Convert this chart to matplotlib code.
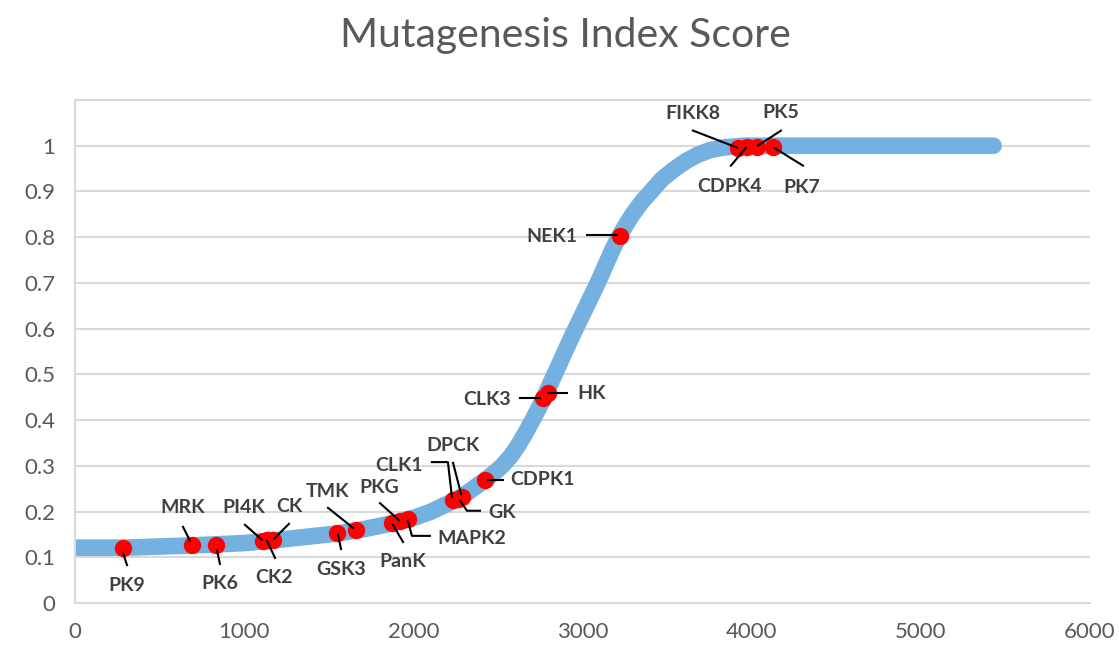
import matplotlib
matplotlib.use('Agg')
import matplotlib.pyplot as plt
import matplotlib.transforms as mtransforms

plt.rcParams['font.family'] = ['Lato', 'DejaVu Sans']

# ranked mutagenesis index score curve (rank, score)
curve_rank = [0, 300, 700, 1000, 1150, 1300, 1550, 1700, 1900, 2000, 2100, 2230,
              2300, 2420, 2480, 2530, 2580, 2620, 2660, 2700, 2740, 2780, 2820,
              2860, 2900, 2940, 2970, 3000, 3030, 3060, 3090, 3120, 3150, 3180,
              3215, 3255, 3300, 3350, 3410, 3470, 3540, 3610, 3680, 3750, 3830,
              3950, 5430]
curve_score = [0.121, 0.121, 0.126, 0.131, 0.136, 0.142, 0.152, 0.161, 0.176, 0.186,
               0.199, 0.222, 0.236, 0.268, 0.285, 0.302, 0.323, 0.345, 0.370, 0.397,
               0.425, 0.455, 0.488, 0.520, 0.553, 0.585, 0.608, 0.631, 0.654, 0.677,
               0.700, 0.725, 0.750, 0.775, 0.800, 0.826, 0.852, 0.877, 0.902, 0.927,
               0.948, 0.966, 0.980, 0.990, 0.996, 1.000, 1.000]

# highlighted kinases
kinases = ['PK9', 'MRK', 'PK6', 'PI4K', 'CK2', 'CK', 'GSK3', 'TMK', 'PanK', 'PKG',
           'MAPK2', 'CLK1', 'GK', 'DPCK', 'CDPK1', 'CLK3', 'HK', 'NEK1', 'FIKK8',
           'CDPK4', 'PK5', 'PK7']
kinase_rank = [284, 692, 833, 1111, 1135, 1170, 1549, 1661, 1874, 1921, 1968, 2234,
               2264, 2288, 2423, 2766, 2796, 3222, 3919, 3972, 4031, 4126]
kinase_score = [0.120, 0.127, 0.127, 0.136, 0.138, 0.138, 0.153, 0.160, 0.175, 0.179,
                0.184, 0.225, 0.228, 0.232, 0.269, 0.449, 0.460, 0.803, 0.996, 0.998,
                0.998, 0.998]

# label placement in pixels relative to each dot (x right, y down):
# text centre, then leader line vertices
label_layout = {
    'PK9': ((4, 37), [(0, 5), (4, 17)]),
    'MRK': ((-9, -37), [(-9, -18), (-2, -4)]),
    'PK6': ((4, 39), [(1, 5), (4, 19)]),
    'PI4K': ((-19, -33), [(-18, -16), (-1, -1)]),
    'CK2': ((7, 38), [(0, 1), (8, 18)]),
    'CK': ((16, -33), [(16, -16), (1, -1)]),
    'GSK3': ((4, 36), [(1, 2), (4, 16)]),
    'TMK': ((-28, -38), [(-28, -22), (-3, -2)]),
    'PanK': ((11, 39), [(1, 2), (11, 19)]),
    'PKG': ((-21, -34), [(-20, -18), (-1, -1)]),
    'MAPK2': ((64, 20), [(0, 2), (4, 17), (22, 17)]),
    'CLK1': ((-54, -35), [(-21, -38), (-5, -38), (-1, -3)]),
    'GK': ((44, 14), [(2, 2), (9, 12), (22, 12)]),
    'DPCK': ((-9, -51), [(-9, -34), (-1, -3)]),
    'CDPK1': ((58, 0), [(3, 0), (18, 0)]),
    'CLK3': ((-56, 2), [(-23, 0), (-3, 0)]),
    'HK': ((44, 1), [(0, 0), (19, 0)]),
    'NEK1': ((-68, 1), [(-33, -1), (-3, -1)]),
    'FIKK8': ((-45, -34), [(-45, -17), (-1, 0)]),
    'CDPK4': ((-17, 40), [(-1, 1), (-16, 19)]),
    'PK5': ((24, -34), [(24, -16), (1, -1)]),
    'PK7': ((29, 41), [(1, 1), (30, 19)]),
}

grid_color = '#D9D9D9'
text_color = '#595959'

fig = plt.figure(figsize=(11.19, 6.5), dpi=100)
ax = fig.add_axes([75 / 1119, 1 - 603 / 650, 1015 / 1119, 503 / 650])

ax.plot(curve_rank, curve_score, color='#74B0E0', linewidth=12,
        solid_capstyle='round', solid_joinstyle='round', zorder=2)
ax.plot(kinase_rank, kinase_score, 'o', color='#FF0000', markersize=12.5,
        markeredgewidth=0, zorder=3)

for name, x0, y0 in zip(kinases, kinase_rank, kinase_score):
    (tx, ty), verts = label_layout[name]
    ax.annotate(name, xy=(x0, y0), xytext=(tx, -ty), textcoords='offset pixels',
                ha='center', va='center', fontsize=14, fontweight='bold',
                color='#404040', zorder=5)
    anchor = mtransforms.IdentityTransform() + \
        mtransforms.ScaledTranslation(x0, y0, ax.transData)
    ax.plot([v[0] for v in verts], [-v[1] for v in verts], color='black',
            linewidth=1.5, transform=anchor, zorder=4, clip_on=False)

ax.set_xlim(0, 6000)
ax.set_ylim(0, 1.1)
ax.set_xticks(range(0, 7000, 1000))
ax.set_yticks([i / 10 for i in range(11)])
ax.set_yticklabels(['0'] + ['0.%d' % i for i in range(1, 10)] + ['1'])
ax.tick_params(length=0, labelsize=16, labelcolor=text_color)
ax.tick_params(axis='x', pad=14)
ax.tick_params(axis='y', pad=14)
ax.grid(True, axis='y', color=grid_color, linewidth=1.5, zorder=0)
ax.set_axisbelow(True)
for side in ['left', 'bottom', 'top']:
    ax.spines[side].set_color(grid_color)
    ax.spines[side].set_linewidth(1.5)
ax.spines['right'].set_visible(False)

fig.text(565 / 1119, 1 - 36 / 650, 'Mutagenesis Index Score', ha='center',
         va='center', fontsize=29.5, color=text_color)

plt.savefig('out.png', dpi=100)
plt.close()
